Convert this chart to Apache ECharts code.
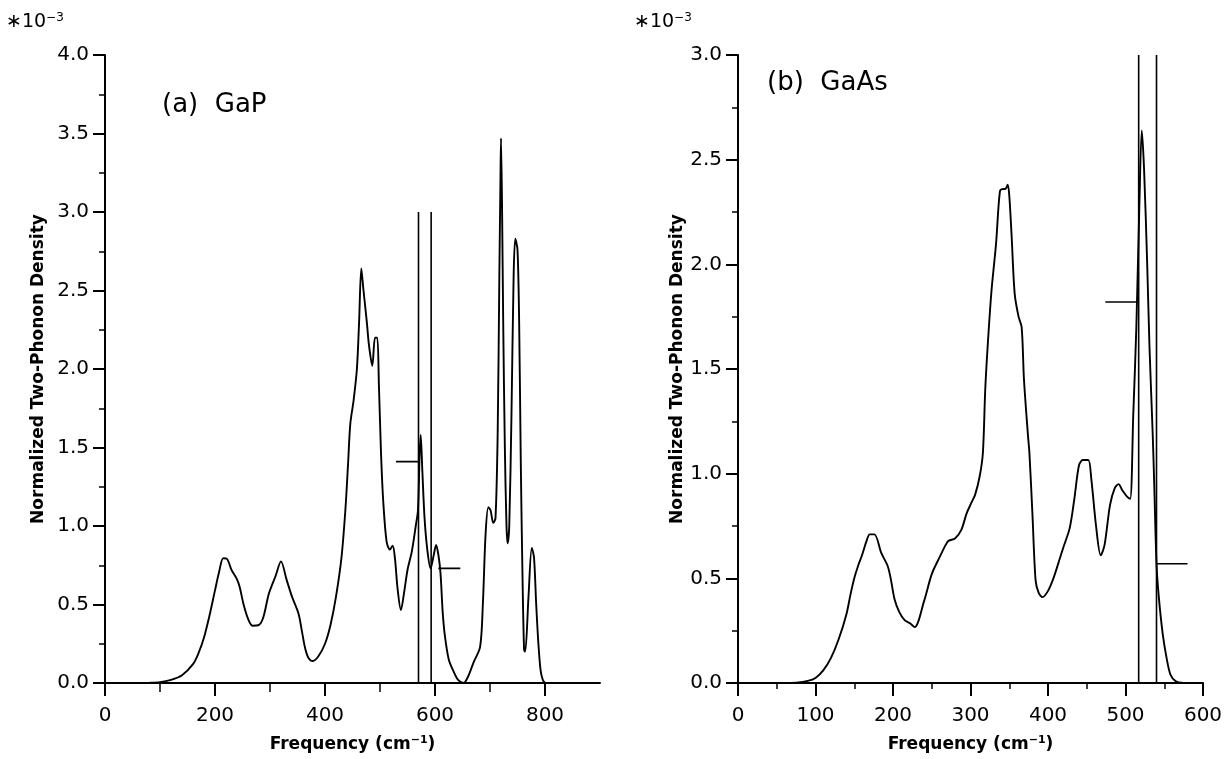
<!DOCTYPE html>
<html><head><meta charset="utf-8">
<script src="https://cdn.jsdelivr.net/npm/echarts@6/dist/echarts.min.js"></script>
<style>html,body{margin:0;padding:0;background:#fff}#c{width:1231px;height:759px}</style>
</head><body><div id="c"></div>
<script>
// ---- (a) GaP two-phonon density (x 1e-3) ----
const gapFreq = [0,60,80,100,120,140,160,170,180,190,200,207,215,222,230,240,245,252,260,268,280,288,298,310,320,330,340,352,358,364,370,378,388,400,410,420,430,437,442,446,452,458,462,466,470,476,480,486,491,495,498,502,506,512,518,523,527,532,538,544,550,558,565,569,572,574,577,581,586,592,598,602,606,610,614,618,625,633,642,652,660,670,682,687,692,697,701,706,710,714,717,719,720,722,724,727,730,732,735,739,743,746,750,753,756,759,762,764,770,776,780,784,788,792,796,800];
const gapDens = [0,0,0.001,0.005,0.02,0.05,0.12,0.19,0.29,0.43,0.59,0.7,0.795,0.79,0.72,0.66,0.61,0.5,0.41,0.365,0.37,0.42,0.57,0.68,0.775,0.66,0.55,0.44,0.33,0.22,0.16,0.14,0.17,0.25,0.37,0.55,0.8,1.1,1.4,1.65,1.8,2.0,2.3,2.64,2.5,2.3,2.15,2.02,2.2,2.2,1.9,1.45,1.15,0.9,0.85,0.875,0.8,0.6,0.465,0.58,0.72,0.84,1.0,1.1,1.45,1.58,1.35,1.05,0.85,0.73,0.82,0.88,0.82,0.7,0.45,0.3,0.15,0.08,0.02,0,0.04,0.13,0.23,0.5,0.95,1.12,1.1,1.02,1.05,1.6,2.6,3.2,3.47,3.0,2.3,1.5,1.0,0.89,1.0,1.7,2.6,2.83,2.76,2.3,1.4,0.7,0.21,0.2,0.55,0.86,0.8,0.5,0.25,0.08,0.02,0];
const gapLineFreq = [570, 593];
const gapLineTop = 3.0;
const gapStepLevel = [1.41, 0.73];
const gapStepFrom = [529, 606];
const gapStepTo = [570, 646];
const gapXTicks = [0, 200, 400, 600, 800];

// ---- (b) GaAs two-phonon density (x 1e-3) ----
const gaasFreq = [0,60,75,90,100,110,120,130,140,145,150,155,160,166,170,176,185,193,197,202,208,215,222,228,240,250,260,268,272,280,288,295,301,306,312,316,319,322,327,333,338,342,345,348,350,353,357,362,366,369,374,376,380,384,388,393,400,407,414,420,428,434,440,445,452,456,462,468,473,480,486,491,496,502,506,510,514,518,521,524,528,531,535,537,540,543,548,553,558,565,575];
const gaasDens = [0,0,0.002,0.01,0.024,0.06,0.12,0.21,0.33,0.42,0.5,0.56,0.61,0.68,0.71,0.71,0.62,0.56,0.5,0.4,0.34,0.3,0.285,0.267,0.39,0.52,0.6,0.66,0.68,0.69,0.73,0.81,0.86,0.9,0.99,1.1,1.4,1.6,1.87,2.1,2.35,2.36,2.36,2.38,2.33,2.14,1.86,1.75,1.7,1.45,1.19,1.1,0.8,0.49,0.43,0.41,0.44,0.5,0.58,0.65,0.74,0.88,1.04,1.065,1.065,0.97,0.75,0.61,0.66,0.85,0.93,0.95,0.92,0.89,0.88,1.28,1.7,2.3,2.64,2.45,2.0,1.6,1.2,0.96,0.57,0.41,0.235,0.12,0.04,0.008,0];
const gaasLineFreq = [517, 540];
const gaasLineTop = 3.0;
const gaasStepLevel = [1.82, 0.57];
const gaasStepFrom = [474, 540];
const gaasStepTo = [517, 580];
const gaasXTicks = [0, 100, 200, 300, 400, 500, 600];

const FONT = 'DejaVu Sans';
const BLACK = '#000';

function pairs(xs, ys) { return xs.map((x, i) => [x, ys[i]]); }
function seg(idx, data, w) {
  return { type: 'line', xAxisIndex: idx, yAxisIndex: idx, data: data, symbol: 'none',
    lineStyle: { color: BLACK, width: w || 1.6 }, silent: true, animation: false, z: 3 };
}
function curve(idx, xs, ys) {
  return { type: 'line', xAxisIndex: idx, yAxisIndex: idx, data: pairs(xs, ys), symbol: 'none',
    smooth: 0.3,
    lineStyle: { color: BLACK, width: 1.9 }, silent: true, animation: false, z: 4 };
}

const supRich = { sup: { fontSize: 11, fontFamily: FONT, fontWeight: 'bold', color: BLACK, padding: [0, 0, 9, 0] } };

function xAxis(idx, max, interval, ticks) {
  return {
    type: 'value', gridIndex: idx, min: 0, max: max, interval: interval,
    name: 'Frequency (cm{sup|−1})', nameLocation: 'middle', nameGap: 52,
    nameTextStyle: { color: BLACK, fontFamily: FONT, fontSize: 17, fontWeight: 'bold', rich: supRich },
    axisLine: { onZero: false, lineStyle: { color: BLACK, width: 2 } },
    axisTick: { show: true, length: 13, inside: false, lineStyle: { color: BLACK, width: 2 }, customValues: ticks },
    minorTick: { show: true, splitNumber: 2, length: idx === 0 ? 9 : 6, lineStyle: { color: BLACK, width: 1.5 } },
    axisLabel: { color: BLACK, fontFamily: FONT, fontSize: 20, margin: 23, customValues: ticks },
    splitLine: { show: false }, minorSplitLine: { show: false }
  };
}
function yAxis(idx, max, gap) {
  return {
    type: 'value', gridIndex: idx, min: 0, max: max, interval: 0.5,
    name: 'Normalized Two-Phonon Density', nameLocation: 'middle', nameGap: gap,
    nameTextStyle: { color: BLACK, fontFamily: FONT, fontSize: 17, fontWeight: 'bold' },
    axisLine: { onZero: false, lineStyle: { color: BLACK, width: 2 } },
    axisTick: { show: true, length: 12, lineStyle: { color: BLACK, width: 2 } },
    minorTick: { show: true, splitNumber: 2, length: 6, lineStyle: { color: BLACK, width: 1.5 } },
    axisLabel: { color: BLACK, fontFamily: FONT, fontSize: 20, margin: 16, formatter: v => v.toFixed(1) },
    splitLine: { show: false }, minorSplitLine: { show: false }
  };
}

const series = [curve(0, gapFreq, gapDens), curve(1, gaasFreq, gaasDens)];
gapLineFreq.forEach(f => series.push(seg(0, [[f, 0], [f, gapLineTop]])));
gapStepLevel.forEach((v, i) => series.push(seg(0, [[gapStepFrom[i], v], [gapStepTo[i], v]])));
gaasLineFreq.forEach(f => series.push(seg(1, [[f, 0], [f, gaasLineTop]])));
gaasStepLevel.forEach((v, i) => series.push(seg(1, [[gaasStepFrom[i], v], [gaasStepTo[i], v]])));

function txt(left, top, text, size, rich) {
  return { type: 'text', left: left, top: top, silent: true,
    style: { text: text, fill: BLACK, font: size + 'px "' + FONT + '"', rich: rich || {} } };
}
const expRich = { sup: { fontSize: 12, fontFamily: FONT, fill: BLACK, color: BLACK, padding: [0, 0, 9, 0] } };

const chart = echarts.init(document.getElementById('c'), null, { renderer: 'canvas' });
chart.setOption({
  backgroundColor: '#fff',
  animation: false,
  grid: [
    { left: 105, top: 55, width: 495, height: 628, containLabel: false },
    { left: 738, top: 55, width: 465, height: 628, containLabel: false }
  ],
  xAxis: [xAxis(0, 900, 200, gapXTicks), xAxis(1, 600, 100, gaasXTicks)],
  yAxis: [yAxis(0, 4.0, 58), yAxis(1, 3.0, 52)],
  series: series,
  graphic: [
    txt(6, 12, '∗10{sup|−3}', 19, expRich),
    txt(634, 12, '∗10{sup|−3}', 19, expRich),
    txt(162, 92, '(a)  GaP', 26),
    txt(767, 70, '(b)  GaAs', 26)
  ]
});
</script></body></html>
